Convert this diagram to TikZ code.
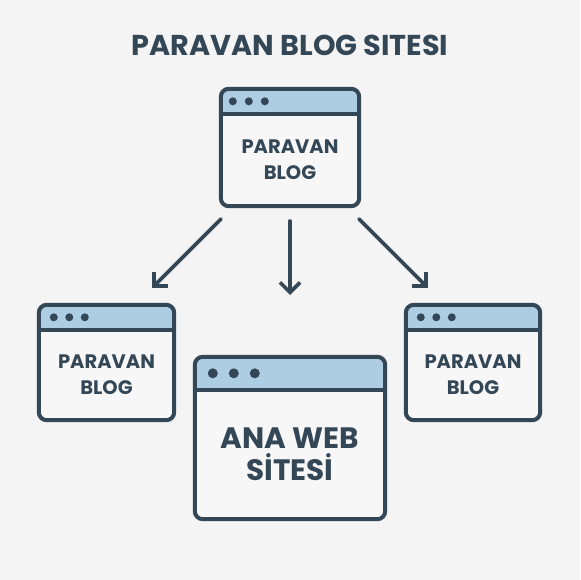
\documentclass[tikz,border=0pt]{standalone}
\usepackage{fontspec}
\setmainfont{Poppins}
\usetikzlibrary{arrows.meta}
\definecolor{dark}{RGB}{52,71,86}
\definecolor{hdr}{RGB}{173,205,226}
\definecolor{bg}{RGB}{244,244,244}
\definecolor{bodyc}{RGB}{247,247,247}
\pgfdeclarelayer{background}
\pgfdeclarelayer{backmost}
\pgfsetlayers{backmost,background,main}
\newcommand\brwin[5]{%
  \begin{pgfonlayer}{background}
  \begin{scope}
    \clip[rounded corners=8pt] ([yshift=#2]#1.north west) rectangle (#1.south east);
    \fill[bodyc] ([yshift=#2]#1.north west) rectangle (#1.south east);
    \fill[hdr] ([yshift=#2]#1.north west) rectangle (#1.north east);
  \end{scope}
  \draw[frame] ([yshift=#2]#1.north west) rectangle (#1.south east);
  \draw[dark,line width=4pt] (#1.north west) -- (#1.north east);
  \foreach \k in {0,1,2}
    \fill[dark] ([xshift=#3+\k*#4, yshift=#2/2]#1.north west) circle (#5);
  \end{pgfonlayer}}
\begin{document}
\begin{tikzpicture}[x=1pt,y=-1pt,
  frame/.style={draw=dark, line width=4pt, rounded corners=8pt},
  winbody/.style 2 args={minimum width=#1, minimum height=#2, inner sep=0pt, align=center, text=dark},
  small/.style={font=\bfseries\fontsize{19.5}{26}\selectfont},
  big/.style={font=\bfseries\fontsize{29.5}{32}\selectfont},
  conn/.style={draw=dark, line width=3.6pt, line cap=round, -{Straight Barb[length=10pt,width=20pt,line width=3.6pt]}}]
\useasboundingbox (0,0) rectangle (580,580);
\begin{pgfonlayer}{backmost}
\fill[bg] (0,0) rectangle (580,580);
\end{pgfonlayer}

\node[text=dark, font=\bfseries\fontsize{28.7}{30}\selectfont] (title) at (290,45) {PARAVAN BLOG SITESI};

\node[winbody={138pt}{92pt}, small] (top) at (290,160) {PARAVAN\\BLOG};
\node[winbody={135pt}{90pt}, small] (left) at (106.5,375) {PARAVAN\\BLOG};
\node[winbody={134pt}{90pt}, small] (right) at (473,375) {PARAVAN\\BLOG};
\node[winbody={190pt}{129pt}, big] (main) at (290,454.5) {ANA WEB\\SİTESİ};

\brwin{top}{25pt}{12pt}{16pt}{4pt}
\brwin{left}{25pt}{15pt}{15.5pt}{4pt}
\brwin{right}{25pt}{15pt}{15.5pt}{4pt}
\brwin{main}{33pt}{18pt}{21pt}{5pt}

\coordinate (s1) at (221,219);
\coordinate (e1) at (152,288);
\coordinate (s2) at (290,221);
\coordinate (e2) at (290,295);
\coordinate (s3) at (359,219);
\coordinate (e3) at (428,288);
\draw[conn] (s1) -- (e1);
\draw[conn] (s2) -- (e2);
\draw[conn] (s3) -- (e3);
\end{tikzpicture}
\end{document}
